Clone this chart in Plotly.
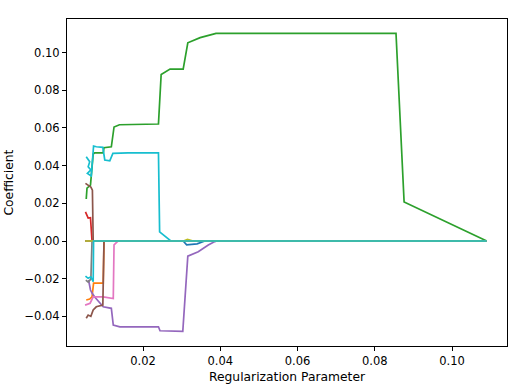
import plotly.graph_objects as go

# matplotlib tab10 cycle, 20 features -> cycles twice
colors = ["#1f77b4", "#ff7f0e", "#2ca02c", "#d62728", "#9467bd",
          "#8c564b", "#e377c2", "#7f7f7f", "#bcbd22", "#17becf"]

a_min, a_max = 0.0050, 0.1090

# coefficient paths: (alphas, coefs) per feature
f0_x = [a_min, 0.0304, 0.0313, 0.0340, 0.0360, a_max]
f0_y = [0.0, 0.0, -0.0020, -0.0015, 0.0, 0.0]

f1_x = [0.0053, 0.0062, 0.0068, 0.0072, 0.0097, 0.0099, a_max]
f1_y = [-0.0313, -0.0308, -0.0296, -0.0223, -0.0223, 0.0, 0.0]

f2_x = [0.0053, 0.0055, 0.0064, 0.0071, 0.0075, 0.0097, 0.0099, 0.0118, 0.0125,
        0.0139, 0.0240, 0.0247, 0.0270, 0.0304, 0.0316, 0.0348, 0.0382, 0.0389,
        0.0855, 0.0876, a_max]
f2_y = [0.0223, 0.0281, 0.0297, 0.0462, 0.0468, 0.0468, 0.0495, 0.0500, 0.0605,
        0.0617, 0.0621, 0.0884, 0.0912, 0.0912, 0.1052, 0.1079, 0.1098, 0.1102,
        0.1102, 0.0207, 0.0]

f3_x = [0.0051, 0.0058, 0.0064, 0.0068, a_max]
f3_y = [0.0155, 0.0122, 0.0124, 0.0, 0.0]

f4_x = [0.0059, 0.0064, 0.0068, 0.0075, 0.0097, 0.0118, 0.0123, 0.0140, 0.0240,
        0.0244, 0.0303, 0.0316, 0.0343, 0.0369, 0.0386, 0.0391, a_max]
f4_y = [-0.0207, -0.0260, -0.0276, -0.0297, -0.0349, -0.0357, -0.0446, -0.0455,
        -0.0455, -0.0476, -0.0479, -0.0080, -0.0057, -0.0021, -0.0003, 0.0, 0.0]

f5_x = [0.0051, 0.0058, 0.0065, 0.0069, 0.0071, a_max]
f5_y = [0.0306, 0.0297, 0.0286, 0.0270, 0.0, 0.0]

f6_x = [0.0050, 0.0063, 0.0071, 0.0097, 0.0123, 0.0125, 0.0135, a_max]
f6_y = [-0.0340, -0.0330, -0.0296, -0.0296, -0.0305, -0.0020, 0.0, 0.0]

f7_x = [0.0052, 0.0058, 0.0065, 0.0068, a_max]
f7_y = [-0.0207, -0.0218, -0.0202, 0.0, 0.0]

f8_x = [a_min, 0.0305, 0.0315, 0.0330, a_max]
f8_y = [0.0, 0.0, 0.0008, 0.0, 0.0]

f9_x = [0.0053, 0.0062, 0.0058, 0.0065, 0.0056, 0.0066, 0.0072, 0.0079, 0.0096,
        0.0101, 0.0114, 0.0122, 0.0161, 0.0240, 0.0243, 0.0272, a_max]
f9_y = [0.0447, 0.0421, 0.0394, 0.0377, 0.0359, 0.0345, 0.0504, 0.0500, 0.0497,
        0.0430, 0.0426, 0.0465, 0.0468, 0.0468, 0.0049, 0.0, 0.0]

zero_x = [a_min, a_max]
zero_y = [0.0, 0.0]

f15_x = [0.0053, 0.0058, 0.0065, 0.0071, 0.0079, 0.0096, 0.0099, a_max]
f15_y = [-0.0410, -0.0393, -0.0400, -0.0366, -0.0349, -0.0340, 0.0, 0.0]

f19_x = [0.0051, 0.0058, 0.0065, 0.0071, 0.0072, a_max]
f19_y = [-0.0186, -0.0198, -0.0190, -0.0216, 0.0, 0.0]

paths = [
    (f0_x, f0_y), (f1_x, f1_y), (f2_x, f2_y), (f3_x, f3_y), (f4_x, f4_y),
    (f5_x, f5_y), (f6_x, f6_y), (f7_x, f7_y), (f8_x, f8_y), (f9_x, f9_y),
    (zero_x, zero_y), (zero_x, zero_y), (zero_x, zero_y), (zero_x, zero_y),
    (zero_x, zero_y), (f15_x, f15_y), (zero_x, zero_y), (zero_x, zero_y),
    (zero_x, zero_y), (f19_x, f19_y),
]

x_ticks = [0.02, 0.04, 0.06, 0.08, 0.10]
y_ticks = [-0.04, -0.02, 0.00, 0.02, 0.04, 0.06, 0.08, 0.10]

fig = go.Figure()
for i, (xs, ys) in enumerate(paths):
    fig.add_trace(go.Scatter(x=xs, y=ys, mode="lines",
                             line=dict(color=colors[i % 10], width=1.7),
                             showlegend=False, hoverinfo="skip"))

tick_font = dict(family="DejaVu Sans", size=11.5, color="black")
title_font = dict(family="DejaVu Sans", size=12.3, color="black")
axis_style = dict(showline=True, linecolor="black", linewidth=1, mirror=True,
                  ticks="outside", ticklen=4, tickcolor="black", tickwidth=1,
                  showgrid=False, zeroline=False, automargin=False, tickfont=tick_font)

fig.update_xaxes(range=[0.00032, 0.11424], tickvals=x_ticks, tickformat=".2f",
                 **axis_style)
fig.update_yaxes(range=[-0.0557, 0.1178], tickvals=y_ticks, tickformat=".2f",
                 **axis_style)

# axis titles as annotations so the plot area stays where the reference has it
fig.add_annotation(text="Regularization Parameter", xref="paper", yref="paper",
                   x=0.5, y=-0.095, showarrow=False, font=title_font,
                   xanchor="center", yanchor="middle")
fig.add_annotation(text="Coefficient", xref="paper", yref="paper",
                   x=-0.134, y=0.5, showarrow=False, font=title_font, textangle=-90,
                   xanchor="center", yanchor="middle")

fig.update_layout(width=509, height=384, plot_bgcolor="white", paper_bgcolor="white",
                  margin=dict(l=67, r=2, t=19, b=38))

# drop the browser's default 8px body margin; no modebar
fig.write_html("out.html", config={"displayModeBar": False},
               post_script="document.body.style.margin='0';")
